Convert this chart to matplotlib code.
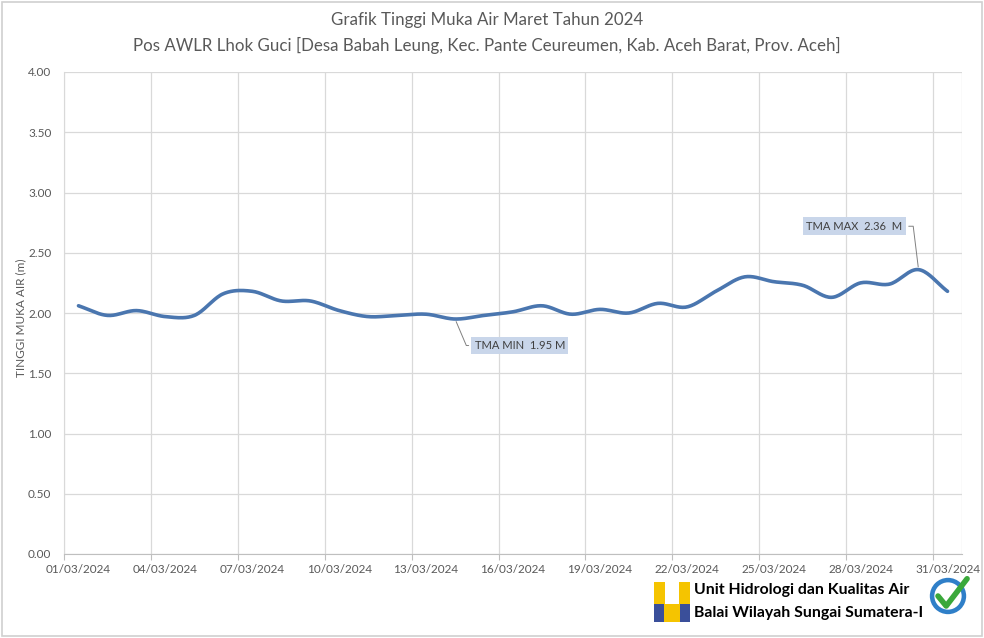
import numpy as np
import matplotlib
matplotlib.use("Agg")
import matplotlib.pyplot as plt
import matplotlib.dates as mdates
import matplotlib.transforms as mtransforms
from matplotlib.patches import Rectangle, Circle
from datetime import datetime, timedelta

plt.rcParams['font.family'] = ['Lato', 'DejaVu Sans']

# data: daily water level, March 2024 (m)
days = list(range(1, 32))
levels = [2.06, 1.98, 2.02, 1.97, 1.98, 2.16, 2.18, 2.10, 2.10, 2.02,
          1.97, 1.98, 1.99, 1.95, 1.98, 2.01, 2.06, 1.99, 2.03, 2.00,
          2.08, 2.05, 2.18, 2.30, 2.26, 2.23, 2.13, 2.25, 2.24, 2.36,
          2.18]
tick_days = [1, 4, 7, 10, 13, 16, 19, 22, 25, 28, 31]
y_ticks = [0, 0.5, 1.0, 1.5, 2.0, 2.5, 3.0, 3.5, 4.0]
title1 = "Grafik Tinggi Muka Air Maret Tahun 2024"
title2 = "Pos AWLR Lhok Guci [Desa Babah Leung, Kec. Pante Ceureumen, Kab. Aceh Barat, Prov. Aceh]"

gray = '#595959'
grid = '#d9d9d9'

# points sit in the middle of each day
x = np.array([mdates.date2num(datetime(2024, 3, d) + timedelta(hours=12)) for d in days])
y = np.array(levels)


def smooth(xp, yp, n=20):
    # Catmull-Rom spline through the points, like Excel's smoothed line
    px = np.concatenate([[2 * xp[0] - xp[1]], xp, [2 * xp[-1] - xp[-2]]])
    py = np.concatenate([[2 * yp[0] - yp[1]], yp, [2 * yp[-1] - yp[-2]]])
    xs, ys = [], []
    t = np.linspace(0, 1, n, endpoint=False)
    for i in range(1, len(px) - 2):
        for arr, out in ((px, xs), (py, ys)):
            p0, p1, p2, p3 = arr[i - 1], arr[i], arr[i + 1], arr[i + 2]
            out.extend(0.5 * ((2 * p1) + (-p0 + p2) * t
                              + (2 * p0 - 5 * p1 + 4 * p2 - p3) * t ** 2
                              + (-p0 + 3 * p1 - 3 * p2 + p3) * t ** 3))
    xs.append(xp[-1])
    ys.append(yp[-1])
    return np.array(xs), np.array(ys)


fig = plt.figure(figsize=(9.84, 6.38), dpi=100)
ax = fig.add_axes([64 / 984, 1 - 554 / 638, 898 / 984, 482 / 638])

sx, sy = smooth(x, y)
ax.plot(sx, sy, color='#4a76af', lw=2.6, solid_capstyle='round', zorder=3)

ax.set_xlim(mdates.date2num(datetime(2024, 3, 1)), mdates.date2num(datetime(2024, 4, 1)))
ax.set_ylim(0, 4)
ax.set_yticks(y_ticks)
ax.set_yticklabels([f"{v:.2f}" for v in y_ticks])
ax.set_xticks([mdates.date2num(datetime(2024, 3, d)) for d in tick_days])
ax.set_xticklabels([f"{d:02d}/03/2024" for d in tick_days])
ax.grid(True, color=grid, lw=0.9)
ax.set_axisbelow(True)
for s in ['top', 'right']:
    ax.spines[s].set_visible(False)
ax.spines['left'].set_color(grid)
ax.spines['bottom'].set_color('#bfbfbf')
ax.tick_params(axis='y', length=0, colors=gray, labelsize=8.5, pad=9)
ax.tick_params(axis='x', length=4, color='#bfbfbf', colors=gray, labelsize=8.5, pad=3)
ax.axvline(ax.get_xlim()[1], color=grid, lw=0.9)
offset = mtransforms.ScaledTranslation(0.145, 0, fig.dpi_scale_trans)
for lab in ax.get_xticklabels():
    lab.set_transform(lab.get_transform() + offset)

ax.set_ylabel("TINGGI MUKA AIR (m)", color=gray, fontsize=8.5)
ax.yaxis.set_label_coords(-0.042, 0.49)

fig.text(0.495, 1 - 20 / 638, title1, ha='center', va='center', color=gray, fontsize=12.2)
fig.text(0.495, 1 - 45 / 638, title2, ha='center', va='center', color=gray, fontsize=12.2)

# min / max callouts
i_min = int(np.argmin(y))
i_max = int(np.argmax(y))
box = dict(boxstyle='square,pad=0.3', fc='#c9d6ea', ec='none')
ax.annotate(f"TMA MIN  {y[i_min]:.2f} M", xy=(x[i_min], y[i_min]),
            xytext=(x[i_min] + 0.68, 1.73), fontsize=8, color='#404040',
            ha='left', va='center', bbox=box,
            arrowprops=dict(arrowstyle='-', color='#808080', lw=0.7,
                            connectionstyle='angle,angleA=0,angleB=-67,rad=0'))
ax.annotate(f"TMA MAX  {y[i_max]:.2f}  M", xy=(x[i_max], y[i_max]),
            xytext=(x[i_max] - 0.55, 2.72), fontsize=8, color='#404040',
            ha='right', va='center', bbox=box,
            arrowprops=dict(arrowstyle='-', color='#808080', lw=0.7,
                            connectionstyle='angle,angleA=0,angleB=97,rad=0'))

# footer: logo, unit name, certification badge
fig.patches.append(Rectangle((0.002, 0.003), 0.996, 0.994, transform=fig.transFigure,
                             fill=False, ec='#d0d0d0', lw=1.2))
lx, ly = 654 / 984, 1 - 622 / 638
lw_, lh = 36 / 984, 40 / 638
fig.patches.append(Rectangle((lx, ly), lw_, lh, transform=fig.transFigure, fc='#f5c400', ec='none'))
fig.patches.append(Rectangle((lx + lw_ * 0.3, ly + lh * 0.45), lw_ * 0.4, lh * 0.55,
                             transform=fig.transFigure, fc='white', ec='none'))
fig.patches.append(Rectangle((lx, ly), lw_ * 0.28, lh * 0.45, transform=fig.transFigure,
                             fc='#3a4f9a', ec='none'))
fig.patches.append(Rectangle((lx + lw_ * 0.72, ly), lw_ * 0.28, lh * 0.45, transform=fig.transFigure,
                             fc='#3a4f9a', ec='none'))
fig.text(694 / 984, 1 - 590 / 638, "Unit Hidrologi dan Kualitas Air", fontsize=11.4,
         fontweight='bold', va='center', color='black')
fig.text(694 / 984, 1 - 613 / 638, "Balai Wilayah Sungai Sumatera-I", fontsize=11.4,
         fontweight='bold', va='center', color='black')
bax = fig.add_axes([922 / 984, 1 - 616 / 638, 52 / 984, 40 / 638])
bax.set_xlim(-1.2, 1.2)
bax.set_ylim(-1.1, 1.1)
bax.set_aspect('equal')
bax.axis('off')
bax.add_patch(Circle((0, 0), 1.0, fc='#2f7fc8', ec='none'))
bax.add_patch(Circle((0, 0), 0.75, fc='white', ec='none'))
bax.plot([-0.55, -0.1, 1.05], [0.0, -0.55, 0.95], color='#3aa83a', lw=4, solid_capstyle='round')

fig.savefig("out.png", dpi=100)
